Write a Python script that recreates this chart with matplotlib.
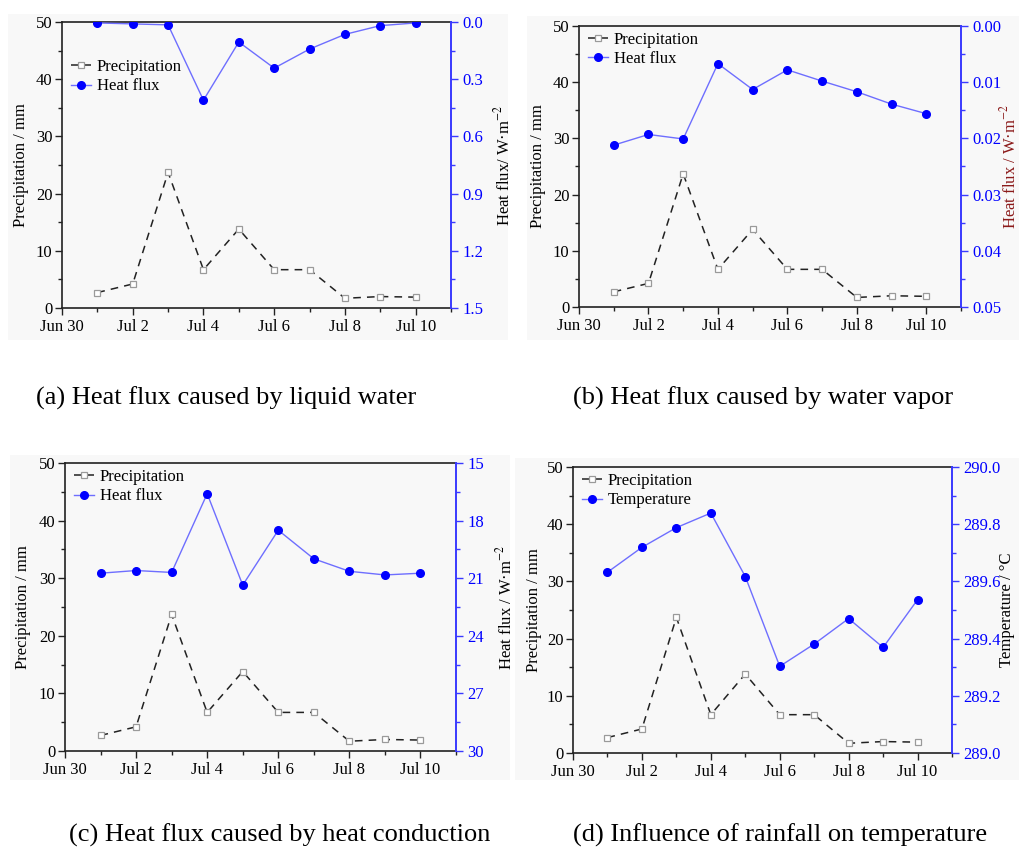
"""
Precipitation vs. heat flux / temperature, four panels (Jun 30 - Jul 11).
"""

import matplotlib

matplotlib.use("Agg")

import matplotlib.dates as mdates
import matplotlib.pyplot as plt
import pandas as pd
from matplotlib.patches import Rectangle
from matplotlib.ticker import FormatStrFormatter, MultipleLocator

plt.rcParams["font.family"] = ["Liberation Serif", "DejaVu Serif"]
plt.rcParams["mathtext.fontset"] = "stix"

YEAR = 2016
DAYS = ["Jul 1", "Jul 2", "Jul 3", "Jul 4", "Jul 5",
        "Jul 6", "Jul 7", "Jul 8", "Jul 9", "Jul 10"]
XTICK_LABELS = ["Jun 30", "Jul 2", "Jul 4", "Jul 6", "Jul 8", "Jul 10"]
X_START, X_END = "Jun 30", "Jul 11"

PRECIPITATION = [2.7, 4.2, 23.7, 6.7, 13.8, 6.7, 6.7, 1.7, 2.0, 1.9]
FLUX_LIQUID = [0.005, 0.010, 0.015, 0.410, 0.105, 0.242, 0.142, 0.065, 0.019, 0.005]
FLUX_VAPOR = [0.0212, 0.0193, 0.0201, 0.0067, 0.0113,
              0.0078, 0.0098, 0.0117, 0.0139, 0.0156]
FLUX_CONDUCTION = [20.74, 20.60, 20.70, 16.60, 21.36,
                   18.50, 19.99, 20.64, 20.83, 20.74]
TEMPERATURE = [289.632, 289.719, 289.788, 289.839, 289.617,
               289.303, 289.381, 289.470, 289.369, 289.536]

W, H = 1019, 852
BLUE = "#0000ff"
BLUE_LINE = "#6e6eff"
BLUE_AXIS = "#3a3aff"
FS = 12


def to_date(label):
    return pd.to_datetime(f"{label} {YEAR}", format="%b %d %Y")


def px_rect(left, top, right, bottom):
    return [left / W, 1 - bottom / H, (right - left) / W, (bottom - top) / H]


PANELS = [
    dict(rect=(62, 22, 451, 308), values=FLUX_LIQUID, name="Heat flux",
         ylabel="Heat flux/ W·m$^{-2}$", ylabel_x=502, ylabel_color="black",
         ylim=(1.5, 0.0), major=0.3, minor=0.15, fmt="%.1f",
         legend_top=37, left_label_x=18,
         caption="(a) Heat flux caused by liquid water", cap=(226, 398),
         bg=(8, 14, 508, 340)),
    dict(rect=(579, 26, 961, 307), values=FLUX_VAPOR, name="Heat flux",
         ylabel="Heat flux / W·m$^{-2}$", ylabel_x=1008, ylabel_color="#8b1a1a",
         ylim=(0.05, 0.0), major=0.01, minor=0.005, fmt="%.2f",
         legend_top=6, left_label_x=535,
         caption="(b) Heat flux caused by water vapor", cap=(763, 398),
         bg=(527, 16, 1019, 340)),
    dict(rect=(65, 463, 456, 751), values=FLUX_CONDUCTION, name="Heat flux",
         ylabel="Heat flux / W·m$^{-2}$", ylabel_x=504, ylabel_color="black",
         ylim=(30, 15), major=3, minor=1.5, fmt="%.0f",
         legend_top=6, left_label_x=20,
         caption="(c) Heat flux caused by heat conduction", cap=(280, 835),
         bg=(10, 455, 510, 780)),
    dict(rect=(573, 467, 952, 753), values=TEMPERATURE, name="Temperature",
         ylabel="Temperature / °C", ylabel_x=1008, ylabel_color="black",
         ylim=(289.0, 290.0), major=0.2, minor=0.1, fmt="%.1f",
         legend_top=6, left_label_x=531,
         caption="(d) Influence of rainfall on temperature", cap=(780, 835),
         bg=(515, 458, 1019, 780)),
]


def draw_panel(fig, p, dates):
    left, top, right, bottom = p["rect"]
    ax = fig.add_axes(px_rect(left, top, right, bottom))
    ax.patch.set_alpha(0)
    axr = ax.twinx()
    axr.patch.set_alpha(0)

    prec, = ax.plot(dates, PRECIPITATION, color="#222222", lw=1.1,
                    dashes=(5, 4), marker="s", ms=4, mfc="white",
                    mec="#9a9a9a", mew=0.9, label="Precipitation")
    flux, = axr.plot(dates, p["values"], color=BLUE_LINE, lw=1.0,
                     marker="o", ms=5.5, mfc=BLUE, mec=BLUE,
                     label=p["name"])

    ax.set_xlim(to_date(X_START), to_date(X_END))
    ax.set_xticks([to_date(t) for t in XTICK_LABELS])
    ax.set_xticklabels(XTICK_LABELS)
    ax.xaxis.set_minor_locator(mdates.DayLocator(interval=1))

    ax.set_ylim(0, 50)
    ax.yaxis.set_major_locator(MultipleLocator(10))
    ax.yaxis.set_minor_locator(MultipleLocator(5))
    ax.set_ylabel("Precipitation / mm", fontsize=FS)
    ax.yaxis.set_label_coords((p["left_label_x"] + 11 - left) / (right - left), 0.5)

    ax.tick_params(which="both", direction="out", labelsize=FS, width=1.0,
                   color="#222222")
    ax.tick_params(which="major", length=5)
    ax.tick_params(which="minor", length=3)
    ax.tick_params(axis="x", pad=3)
    ax.tick_params(axis="y", pad=2)
    for side in ("left", "bottom", "top"):
        ax.spines[side].set_color("#222222")
        ax.spines[side].set_linewidth(1.2)
    ax.spines["right"].set_visible(False)

    axr.set_ylim(*p["ylim"])
    axr.yaxis.set_major_locator(MultipleLocator(p["major"]))
    axr.yaxis.set_minor_locator(MultipleLocator(p["minor"]))
    axr.yaxis.set_major_formatter(FormatStrFormatter(p["fmt"]))
    axr.tick_params(which="both", direction="out", labelsize=FS, width=1.0,
                    color=BLUE_AXIS, labelcolor=BLUE, pad=3)
    axr.tick_params(which="major", length=5)
    axr.tick_params(which="minor", length=3)
    for side in ("left", "bottom", "top"):
        axr.spines[side].set_visible(False)
    axr.spines["right"].set_color(BLUE_AXIS)
    axr.spines["right"].set_linewidth(1.4)
    axr.set_ylabel(p["ylabel"], fontsize=FS, color=p["ylabel_color"])
    axr.yaxis.set_label_coords((p["ylabel_x"] - 9 - left) / (right - left), 0.5)

    leg = ax.legend(handles=[prec, flux], loc="upper left", frameon=False,
                    fontsize=FS, handlelength=1.2, handletextpad=0.35,
                    labelspacing=0.2, borderpad=0, borderaxespad=0,
                    bbox_to_anchor=(9 / (right - left),
                                    1 - p["legend_top"] / (bottom - top)))
    leg.set_zorder(5)

    fig.text(p["cap"][0] / W, 1 - p["cap"][1] / H, p["caption"],
             fontsize=19, ha="center", va="center")


def main():
    fig = plt.figure(figsize=(W / 100, H / 100), dpi=100)
    fig.patch.set_facecolor("white")
    dates = [to_date(d) for d in DAYS]

    for p in PANELS:
        l, t, r, b = p["bg"]
        fig.patches.append(Rectangle((l / W, 1 - b / H), (r - l) / W, (b - t) / H,
                                     transform=fig.transFigure,
                                     facecolor="#f8f8f8", edgecolor="none",
                                     zorder=-10))
        draw_panel(fig, p, dates)

    fig.savefig("out.png", dpi=100)


if __name__ == "__main__":
    main()
